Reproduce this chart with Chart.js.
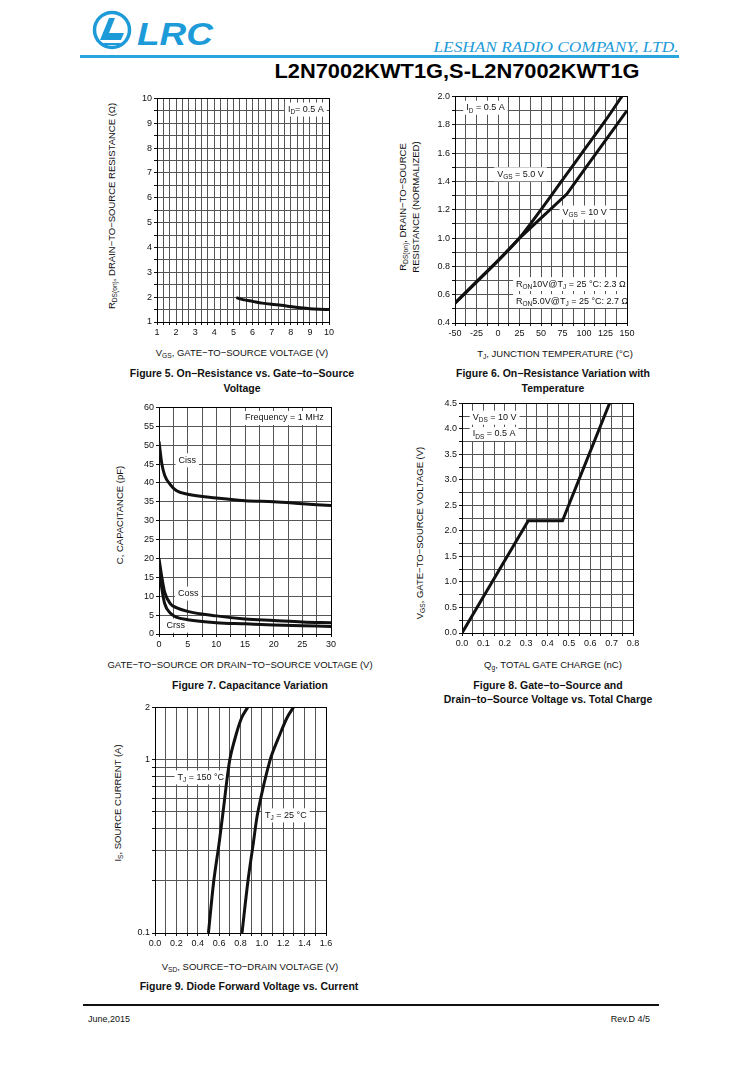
<!DOCTYPE html>
<html>
<head>
<meta charset="utf-8">
<script src="https://cdn.jsdelivr.net/npm/chart.js@4.4.0/dist/chart.umd.min.js"></script>
<style>
body { margin:0; background:#fff; width:736px; height:1065px; position:relative; overflow:hidden;
       font-family:"Liberation Sans", Arial, sans-serif; color:#111; }
canvas { position:absolute; }
.t { position:absolute; white-space:nowrap; transform:translate(-50%,-50%); font-size:9.5px; line-height:1; }
.rot { transform:translate(-50%,-50%) rotate(-90deg); }
.cap { font-weight:bold; font-size:10.5px; }
sub { font-size:70%; vertical-align:-2px; line-height:0; }
</style>
</head>
<body>

<!-- header -->
<svg style="position:absolute;left:90px;top:9px" width="130" height="44" viewBox="0 0 130 44">
  <circle cx="22" cy="21" r="17.5" fill="none" stroke="#1d9bd8" stroke-width="3.5"/>
  <path d="M10 31 L19 9 L25 9 L19 24 L34 24 L31 31 Z" fill="#1d9bd8"/>
  <path d="M13 35 L34 35" stroke="#1d9bd8" stroke-width="2"/>
  <text x="47" y="36" font-family="Liberation Sans, Arial" font-weight="bold" font-style="italic"
        font-size="31" fill="#1d9bd8" textLength="76" lengthAdjust="spacingAndGlyphs">LRC</text>
</svg>
<div id="company" class="t" style="left:556px;top:47px;font-family:'Liberation Serif',serif;font-style:italic;font-size:15px;color:#1d9bd8;">LESHAN RADIO COMPANY, LTD.</div>
<div style="position:absolute;left:80px;top:55px;width:599px;height:3px;background:#2aa5dd;"></div>
<div id="title" class="t" style="left:457px;top:71px;font-size:20px;font-weight:bold;color:#000;">L2N7002KWT1G,S-L2N7002KWT1G</div>

<canvas id="fig5"></canvas>
<canvas id="fig6"></canvas>
<canvas id="fig7"></canvas>
<canvas id="fig8"></canvas>
<canvas id="fig9"></canvas>

<!-- figure 5 texts -->
<div class="t rot" style="left:112px;top:206px;">R<sub>DS(on)</sub>, DRAIN−TO−SOURCE RESISTANCE (Ω)</div>
<div class="t" style="left:242px;top:353px;">V<sub>GS</sub>, GATE−TO−SOURCE VOLTAGE (V)</div>
<div class="t cap" style="left:242px;top:373px;">Figure 5. On−Resistance vs. Gate−to−Source</div>
<div class="t cap" style="left:242px;top:388px;">Voltage</div>

<!-- figure 6 texts -->
<div class="t rot" style="left:403px;top:207px;">R<sub>DS(on)</sub>, DRAIN−TO−SOURCE</div>
<div class="t rot" style="left:416px;top:207px;">RESISTANCE (NORMALIZED)</div>
<div class="t" style="left:555px;top:354px;">T<sub>J</sub>, JUNCTION TEMPERATURE (°C)</div>
<div class="t cap" style="left:553px;top:373px;">Figure 6. On−Resistance Variation with</div>
<div class="t cap" style="left:553px;top:388px;">Temperature</div>

<!-- figure 7 texts -->
<div class="t rot" style="left:120px;top:515px;">C, CAPACITANCE (pF)</div>
<div class="t" style="left:240px;top:665px;">GATE−TO−SOURCE OR DRAIN−TO−SOURCE VOLTAGE (V)</div>
<div class="t cap" style="left:250px;top:685px;">Figure 7. Capacitance Variation</div>

<!-- figure 8 texts -->
<div class="t rot" style="left:420px;top:533px;">V<sub>GS</sub>, GATE−TO−SOURCE VOLTAGE (V)</div>
<div class="t" style="left:553px;top:665px;">Q<sub>g</sub>, TOTAL GATE CHARGE (nC)</div>
<div class="t cap" style="left:548px;top:685px;">Figure 8. Gate−to−Source and</div>
<div class="t cap" style="left:548px;top:699px;">Drain−to−Source Voltage vs. Total Charge</div>

<!-- figure 9 texts -->
<div class="t rot" style="left:118px;top:803px;">I<sub>S</sub>, SOURCE CURRENT (A)</div>
<div class="t" style="left:250px;top:967px;">V<sub>SD</sub>, SOURCE−TO−DRAIN VOLTAGE (V)</div>
<div class="t cap" style="left:249px;top:986px;">Figure 9. Diode Forward Voltage vs. Current</div>

<!-- footer -->
<div style="position:absolute;left:83px;top:1004px;width:576px;height:2px;background:#111;"></div>
<div style="position:absolute;left:88px;top:1014px;font-size:9px;">June,2015</div>
<div style="position:absolute;right:86px;top:1014px;font-size:9px;">Rev.D 4/5</div>

<script>
// ---------- data ----------
// Figure 5: on-resistance vs gate-to-source voltage
const fig5Vgs = [5.15, 5.5, 6, 6.5, 7, 7.5, 8, 8.5, 9, 9.5, 10];
const fig5Rds = [1.98, 1.9, 1.83, 1.76, 1.71, 1.67, 1.62, 1.57, 1.53, 1.51, 1.5];
const fig5XTicks = [1, 2, 3, 4, 5, 6, 7, 8, 9, 10];
const fig5XLabels = ['1', '2', '3', '4', '5', '6', '7', '8', '9', '10'];
const fig5YTicks = [1, 2, 3, 4, 5, 6, 7, 8, 9, 10];
const fig5YLabels = ['1', '2', '3', '4', '5', '6', '7', '8', '9', '10'];

// Figure 6: normalized on-resistance vs junction temperature
const fig6Temp5 = [-50, -25, 0, 25, 50, 75, 100, 125, 144];
const fig6Vgs5 = [0.54, 0.69, 0.84, 1.0, 1.2, 1.41, 1.62, 1.83, 2.0];
const fig6Temp10 = [-50, -25, 0, 25, 50, 80, 100, 125, 150];
const fig6Vgs10 = [0.54, 0.69, 0.84, 1.0, 1.14, 1.31, 1.48, 1.69, 1.9];
const fig6XTicks = [-50, -25, 0, 25, 50, 75, 100, 125, 150];
const fig6XLabels = ['-50', '-25', '0', '25', '50', '75', '100', '125', '150'];
const fig6YTicks = [0.4, 0.6, 0.8, 1.0, 1.2, 1.4, 1.6, 1.8, 2.0];
const fig6YLabels = ['0.4', '0.6', '0.8', '1.0', '1.2', '1.4', '1.6', '1.8', '2.0'];

// Figure 7: capacitance variation
const fig7Volt = [0, 0.5, 1, 2, 3, 5, 10, 15, 20, 25, 30];
const fig7Ciss = [51, 45, 42, 39.5, 38, 37, 36, 35.3, 35, 34.5, 34];
const fig7Coss = [20, 15, 11, 8, 7, 6, 4.8, 4, 3.6, 3.2, 3];
const fig7Crss = [18, 12, 8, 5.5, 4.5, 3.8, 3, 2.7, 2.4, 2.2, 2];
const fig7XTicks = [0, 5, 10, 15, 20, 25, 30];
const fig7XLabels = ['0', '5', '10', '15', '20', '25', '30'];
const fig7YTicks = [0, 5, 10, 15, 20, 25, 30, 35, 40, 45, 50, 55, 60];
const fig7YLabels = ['0', '5', '10', '15', '20', '25', '30', '35', '40', '45', '50', '55', '60'];

// Figure 8: gate charge
const fig8Qg = [0, 0.31, 0.47, 0.69];
const fig8Vgs = [0, 2.2, 2.2, 4.5];
const fig8XTicks = [0, 0.1, 0.2, 0.3, 0.4, 0.5, 0.6, 0.7, 0.8];
const fig8XLabels = ['0.0', '0.1', '0.2', '0.3', '0.4', '0.5', '0.6', '0.7', '0.8'];
const fig8YTicks = [0, 0.5, 1, 1.5, 2, 2.5, 3, 3.5, 4, 4.5];
const fig8YLabels = ['0.0', '0.5', '1.0', '1.5', '2.0', '2.5', '3.0', '3.5', '4.0', '4.5'];

// Figure 9: diode forward voltage
const fig9Vsd150 = [0.5, 0.55, 0.6, 0.637, 0.7, 0.761, 0.814, 0.867];
const fig9Is150 = [0.1, 0.2, 0.33, 0.5, 1.0, 1.41, 1.76, 2.0];
const fig9Vsd25 = [0.814, 0.87, 0.92, 0.963, 1.078, 1.171, 1.239, 1.295];
const fig9Is25 = [0.1, 0.2, 0.33, 0.5, 1.0, 1.41, 1.76, 2.0];
const fig9XTicks = [0, 0.2, 0.4, 0.6, 0.8, 1.0, 1.2, 1.4, 1.6];
const fig9XLabels = ['0.0', '0.2', '0.4', '0.6', '0.8', '1.0', '1.2', '1.4', '1.6'];
const fig9YTicks = [0.1, 1, 2];
const fig9YLabels = ['0.1', '1', '2'];
const fig9YGrid = [0.1, 0.2, 0.3, 0.4, 0.5, 0.6, 0.7, 0.8, 0.9, 1, 2];

// ---------- helpers ----------
const FONT = '"Liberation Sans", Arial, sans-serif';

function steps(min, max, step) {
    const out = [];
    for (let v = min; v <= max + 1e-9; v += step) out.push(Math.round(v * 1000) / 1000);
    return out;
}

function pts(xs, ys) {
    return xs.map((x, i) => ({ x: x, y: ys[i] }));
}

function axis(pos, min, max, grid, tickVals, tickLabels, size, type) {
    return {
        type: type || 'linear', position: pos, min: min, max: max,
        afterBuildTicks: s => { s.ticks = grid.map(v => ({ value: v })); },
        afterFit: s => { if (pos === 'left') s.width = size; else s.height = size; },
        ticks: {
            autoSkip: false, maxRotation: 0, padding: 2, color: '#111',
            font: { family: FONT, size: 9 },
            callback: v => {
                const i = tickVals.findIndex(t => Math.abs(t - v) < 1e-6);
                return i < 0 ? '' : tickLabels[i];
            }
        },
        grid: { color: '#555', lineWidth: 1, tickLength: 3, tickColor: '#111' },
        border: { color: '#000', width: 1 }
    };
}

// smooth: 'mono' = monotone cubic, a number = bezier tension, falsy = straight segments
function curve(data, smooth) {
    return {
        data: data, borderColor: '#111', borderWidth: 3, pointRadius: 0, fill: false,
        tension: typeof smooth === 'number' ? smooth : 0,
        cubicInterpolationMode: smooth === 'mono' ? 'monotone' : 'default'
    };
}

// frame around the plot and text notes (with subscripts) placed in data units
const notesPlugin = {
    id: 'notes',
    beforeDatasetsDraw(chart, args, opts) {
        const ctx = chart.ctx, a = chart.chartArea;
        const xs = chart.scales.x, ys = chart.scales.y;
        const items = (opts.items || []).map(n => {
            let w = 0;
            n.parts.forEach(p => {
                ctx.font = (p[1] ? 6.5 : 9) + 'px ' + FONT;
                w += ctx.measureText(p[0]).width;
            });
            return { n: n, x: xs.getPixelForValue(n.x), y: ys.getPixelForValue(n.y), w: w };
        });
        ctx.save();
        ctx.fillStyle = '#fff';
        items.forEach(it => ctx.fillRect(it.x - 3, it.y - 7, it.w + 6, 14));
        ctx.fillStyle = '#111';
        ctx.textBaseline = 'middle';
        items.forEach(it => {
            let x = it.x;
            it.n.parts.forEach(p => {
                ctx.font = (p[1] ? 6.5 : 9) + 'px ' + FONT;
                ctx.fillText(p[0], x, p[1] ? it.y + 3 : it.y);
                x += ctx.measureText(p[0]).width;
            });
        });
        ctx.strokeStyle = '#000';
        ctx.lineWidth = 1;
        ctx.strokeRect(Math.round(a.left) + 0.5, Math.round(a.top) + 0.5,
                       Math.round(a.right - a.left), Math.round(a.bottom - a.top));
        ctx.restore();
    }
};

function baseOptions(scales, notes) {
    return {
        responsive: false, animation: false, devicePixelRatio: 1,
        layout: { padding: { top: 6, right: 10, bottom: 2, left: 2 } },
        plugins: { legend: { display: false }, tooltip: { enabled: false }, notes: { items: notes } },
        scales: scales
    };
}

// build once to learn the margins, then rebuild so the plot area sits on the target box
function place(id, makeConfig, box) {
    const cv = document.getElementById(id);
    cv.width = box.r - box.l + 80;
    cv.height = box.b - box.t + 60;
    let ch = new Chart(cv, makeConfig());
    const a = ch.chartArea;
    const padL = a.left, padT = a.top, padR = cv.width - a.right, padB = cv.height - a.bottom;
    ch.destroy();
    cv.width = Math.round(box.r - box.l + padL + padR);
    cv.height = Math.round(box.b - box.t + padT + padB);
    cv.style.width = cv.width + 'px';
    cv.style.height = cv.height + 'px';
    ch = new Chart(cv, makeConfig());
    const b = ch.chartArea;
    cv.style.left = (box.l - b.left) + 'px';
    cv.style.top = (box.t - b.top) + 'px';
    return ch;
}

const cfg = (datasets, scales, notes) => () => ({
    type: 'line',
    data: { datasets: datasets() },
    options: baseOptions(scales(), notes),
    plugins: [notesPlugin]
});

// ---------- charts ----------
place('fig5', cfg(
    () => [curve(pts(fig5Vgs, fig5Rds), 'mono')],
    () => ({
        x: axis('bottom', 1, 10, steps(1, 10, 1 / 3), fig5XTicks, fig5XLabels, 16),
        y: axis('left', 1, 10, steps(1, 10, 0.5), fig5YTicks, fig5YLabels, 24)
    }),
    [{ x: 7.85, y: 9.55, parts: [['I', 0], ['D', 1], ['= 0.5 A', 0]] }]
), { l: 157, r: 329, t: 98, b: 322 });

place('fig6', cfg(
    () => [curve(pts(fig6Temp5, fig6Vgs5), 'mono'), curve(pts(fig6Temp10, fig6Vgs10), false)],
    () => ({
        x: axis('bottom', -50, 150, steps(-50, 150, 12.5), fig6XTicks, fig6XLabels, 16),
        y: axis('left', 0.4, 2.0, steps(0.4, 2.0, 0.1), fig6YTicks, fig6YLabels, 24)
    }),
    [
        { x: -37, y: 1.92, parts: [['I', 0], ['D', 1], [' = 0.5 A', 0]] },
        { x: -1, y: 1.45, parts: [['V', 0], ['GS', 1], [' = 5.0 V', 0]] },
        { x: 75, y: 1.18, parts: [['V', 0], ['GS', 1], [' = 10 V', 0]] },
        { x: 21, y: 0.675, parts: [['R', 0], ['ON', 1], ['10V@T', 0], ['J', 1], [' = 25 °C: 2.3 Ω', 0]] },
        { x: 21, y: 0.555, parts: [['R', 0], ['ON', 1], ['5.0V@T', 0], ['J', 1], [' = 25 °C: 2.7 Ω', 0]] }
    ]
), { l: 455, r: 627, t: 96, b: 323 });

place('fig7', cfg(
    () => [curve(pts(fig7Volt, fig7Ciss), 'mono'), curve(pts(fig7Volt, fig7Coss), 'mono'),
           curve(pts(fig7Volt, fig7Crss), 'mono')],
    () => ({
        x: axis('bottom', 0, 30, steps(0, 30, 2.5), fig7XTicks, fig7XLabels, 16),
        y: axis('left', 0, 60, steps(0, 60, 5), fig7YTicks, fig7YLabels, 24)
    }),
    [
        { x: 15, y: 57.2, parts: [['Frequency = 1 MHz', 0]] },
        { x: 3.4, y: 46, parts: [['Ciss', 0]] },
        { x: 3.3, y: 10.7, parts: [['Coss', 0]] },
        { x: 1.3, y: 2.2, parts: [['Crss', 0]] }
    ]
), { l: 159, r: 331, t: 407, b: 634 });

place('fig8', cfg(
    () => [curve(pts(fig8Qg, fig8Vgs), false)],
    () => ({
        x: axis('bottom', 0, 0.8, steps(0, 0.8, 0.05), fig8XTicks, fig8XLabels, 16),
        y: axis('left', 0, 4.5, steps(0, 4.5, 0.25), fig8YTicks, fig8YLabels, 24)
    }),
    [
        { x: 0.05, y: 4.22, parts: [['V', 0], ['DS', 1], [' = 10 V', 0]] },
        { x: 0.05, y: 3.9, parts: [['I', 0], ['DS', 1], [' = 0.5 A', 0]] }
    ]
), { l: 462, r: 633, t: 403, b: 633 });

place('fig9', cfg(
    () => [curve(pts(fig9Vsd150, fig9Is150), 0.3), curve(pts(fig9Vsd25, fig9Is25), 0.3)],
    () => ({
        x: axis('bottom', 0, 1.6, steps(0, 1.6, 0.1), fig9XTicks, fig9XLabels, 16),
        y: axis('left', 0.1, 2, fig9YGrid, fig9YTicks, fig9YLabels, 24, 'logarithmic')
    }),
    [
        { x: 0.21, y: 0.79, parts: [['T', 0], ['J', 1], [' = 150 °C', 0]] },
        { x: 1.03, y: 0.477, parts: [['T', 0], ['J', 1], [' = 25 °C', 0]] }
    ]
), { l: 155, r: 326, t: 707, b: 933 });

// stretch header texts to the widths they occupy on the page
function fitWidth(id, w) {
    const el = document.getElementById(id);
    const k = w / el.getBoundingClientRect().width;
    el.style.transform = 'translate(-50%,-50%) scaleX(' + k + ')';
}
fitWidth('title', 365);
fitWidth('company', 245);
</script>
</body>
</html>
